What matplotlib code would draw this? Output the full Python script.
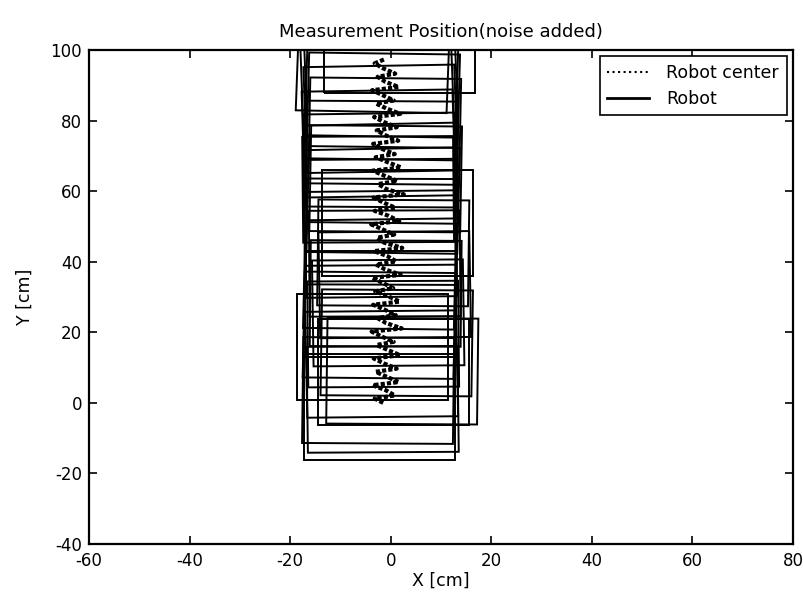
import matplotlib
matplotlib.use("Agg")
import matplotlib.pyplot as plt
from matplotlib.patches import Rectangle
from matplotlib.lines import Line2D

plt.rcParams['font.family'] = ['DejaVu Sans']
plt.rcParams['axes.unicode_minus'] = False

# Measured robot centre path (cm)
center_x = [-1.5, -3.2, 0.8, -1.0, -3.6, 1.6, -0.8, -3.0, 1.2, -1.4, -3.4, 1.9,
            -0.6, -2.8, 0.6, -1.8, -3.8, 2.2, -0.9, -2.6, 1.0, -1.2, -3.5, 1.8,
            -0.5, -3.1, 0.5, -1.6, -3.7, 2.0, -1.1, -2.9, 1.1, -0.7, -3.3, 2.3,
            -1.3, -2.7, 0.7, -1.7, -3.9, 1.7, -0.4, -3.2, 0.9, -1.5, -3.4, 2.6,
            -0.9, -2.5, 1.3, -1.3, -3.6, 2.1, -0.6, -3.0, 0.8, -1.8, -3.5, 1.5,
            -1.0, -2.8, 1.2, -1.4, -3.3, 1.9, -0.8, -2.9, 0.6, -1.6, -3.7, 1.6,
            -1.1, -2.6, 0.9, -1.5, -3.2, -1.0]
center_y = [0.0, 1.2, 2.1, 3.6, 5.0, 5.9, 7.4, 8.8, 9.7, 11.2, 12.6, 13.5,
            15.0, 16.4, 17.3, 18.8, 20.2, 21.1, 22.6, 24.0, 24.9, 26.4, 27.8, 28.7,
            30.2, 31.6, 32.5, 34.0, 35.4, 36.3, 37.8, 39.2, 40.1, 41.6, 43.0, 43.9,
            45.4, 46.8, 47.7, 49.2, 50.6, 51.5, 53.0, 54.4, 55.3, 56.8, 58.2, 59.1,
            60.6, 62.0, 62.9, 64.4, 65.8, 66.7, 68.2, 69.6, 70.5, 72.0, 73.4, 74.3,
            75.8, 77.2, 78.1, 79.6, 81.0, 81.9, 83.4, 84.8, 85.7, 87.2, 88.6, 89.5,
            91.0, 92.4, 93.3, 94.8, 96.2, 97.5]

# Robot footprints (centre x, centre y, heading deviation in degrees)
robot_cx = [-2.2, -1.6, -2.5, 0.5, 2.3, -1.8, -3.6, 1.2, -1.5, -2.3, -0.5, -2.0,
            -1.0, 0.8, -2.2, -1.2, 0.5, -2.0, -1.8, 1.3, -2.2, -1.5, -2.5, -1.0,
            -2.0, -1.7, -2.4, -1.2, -2.0, -1.5, -2.6, -1.8, -2.0, -3.5, 1.7]
robot_cy = [-1.2, 1.0, 3.5, 8.7, 9.0, 11.0, 15.9, 17.0, 19.5, 22.0, 25.5, 28.0,
            31.0, 33.5, 36.0, 39.5, 42.5, 45.0, 48.5, 51.0, 54.0, 57.5, 60.5, 63.5,
            67.0, 70.5, 73.5, 77.0, 80.5, 84.0, 87.0, 90.5, 94.0, 97.5, 102.8]
robot_ang = [0.0, 0.5, -0.5, 0.0, -0.5, 0.8, 0.0, -0.6, 0.4, -0.8, 0.6, 0.0,
             -0.4, 0.7, -0.9, 0.3, -0.5, 0.9, -0.3, 0.0, 0.6, -1.0, 0.4, -0.7,
             1.0, -0.5, 1.2, -0.8, 1.4, -1.1, 1.5, -1.3, 1.6, -1.5, 0.0]
robot_size = 30.0

xticks = [-60, -40, -20, 0, 20, 40, 60, 80]
yticks = [-40, -20, 0, 20, 40, 60, 80, 100]

fig = plt.figure(figsize=(8.04, 5.95), dpi=100)
ax = fig.add_axes([0.1107, 0.0857, 0.8756, 0.8303])

for cx, cy, a in zip(robot_cx, robot_cy, robot_ang):
    ax.add_patch(Rectangle((cx - robot_size / 2, cy - robot_size / 2),
                           robot_size, robot_size, angle=a,
                           rotation_point='center', fill=False,
                           edgecolor='black', linewidth=1.4))

ax.plot(center_x, center_y, linestyle=(0, (1.0, 0.5)), color='black',
        linewidth=3.0)

ax.set_xlim(-60, 80)
ax.set_ylim(-40, 100)
ax.set_xticks(xticks)
ax.set_yticks(yticks)
ax.tick_params(direction='in', top=True, right=True, length=6, width=1.2,
               labelsize=12)
ax.tick_params(axis='x', pad=6)
ax.tick_params(axis='y', pad=5)
for s in ax.spines.values():
    s.set_linewidth(1.6)

ax.set_title('Measurement Position(noise added)', fontsize=13, pad=9)
ax.set_xlabel('X [cm]', fontsize=12.5, labelpad=1)
ax.set_ylabel('Y [cm]', fontsize=12.5, labelpad=12)

handles = [Line2D([], [], linestyle=':', color='black', linewidth=1.5),
           Line2D([], [], linestyle='-', color='black', linewidth=2.0)]
leg = ax.legend(handles, ['Robot center', 'Robot'], loc='upper right',
                fontsize=12.5, fancybox=False, framealpha=1, edgecolor='black',
                borderaxespad=0.35, handlelength=2.4, labelspacing=0.45,
                borderpad=0.45, handletextpad=1.0)
leg.get_frame().set_linewidth(1.2)

fig.savefig('out.png', dpi=100)
